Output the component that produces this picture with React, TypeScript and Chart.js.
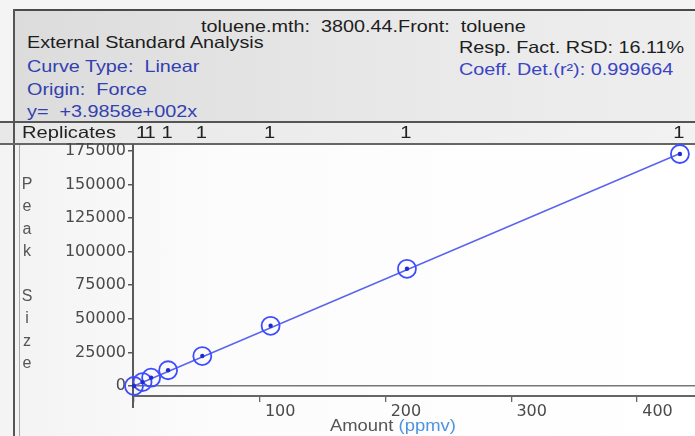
import React, { useEffect, useRef } from 'react';
import { Chart, registerables } from 'chart.js';

Chart.register(...registerables);

// ---- data ----
const amounts = [6.8, 13.6, 27.1, 54.3, 108.6, 217.0, 434.0];
const peakSizes = [2900, 6200, 11700, 22300, 44800, 87200, 172600];
const replicates = [1, 1, 1, 1, 1, 1, 1];
const originAmount = 0;
const originPeak = 0;
const slope = 398.58;
const yTicks = [0, 25000, 50000, 75000, 100000, 125000, 150000, 175000];
const xTicks = [0, 100, 200, 300, 400];
const yRange = [-7440, 179300];
const xRange = [-0.8, 446];

const headerTitle = 'toluene.mth:  3800.44.Front:  toluene';
const leftLines = [
  { text: 'External Standard Analysis', color: '#1d1d1d' },
  { text: 'Curve Type:  Linear', color: '#3340b0' },
  { text: 'Origin:  Force', color: '#3340b0' },
  { text: 'y=  +3.9858e+002x', color: '#3340b0' },
];
const rightLines = [
  { text: 'Resp. Fact. RSD: 16.11%', color: '#1d1d1d' },
  { text: 'Coeff. Det.(r\u00b2): 0.999664', color: '#3a45c4' },
];
const yTitle = 'Peak Size';
const xTitle = 'Amount';
const xUnit = '(ppmv)';

const FONT = '"Liberation Sans", Arial, sans-serif';
const TICK_FONT = '"DejaVu Sans", sans-serif';

const overlayPlugin = {
  id: 'overlay',
  afterDraw(chart: any) {
    const { ctx, chartArea, scales } = chart;
    const xs = scales.x;
    ctx.save();
    // y axis extension below x axis
    ctx.strokeStyle = '#5a5a5a';
    ctx.lineWidth = 2;
    ctx.beginPath();
    ctx.moveTo(chartArea.left, chartArea.bottom);
    ctx.lineTo(chartArea.left, chartArea.bottom + 12);
    ctx.stroke();
    // replicates row
    ctx.fillStyle = '#222';
    ctx.font = '16.5px ' + FONT;
    ctx.textBaseline = 'alphabetic';
    const base = 17;
    const stretched = (t: string, px: number, align: CanvasTextAlign) => {
      ctx.save();
      ctx.translate(px, base);
      ctx.scale(1.22, 1);
      ctx.textAlign = align;
      ctx.fillText(t, 0, 0);
      ctx.restore();
    };
    stretched('Replicates', 22, 'left');
    amounts.forEach((a, i) => {
      stretched(String(replicates[i]), xs.getPixelForValue(a) - 1, 'center');
    });
    ctx.restore();
  },
};

export default function App() {
  const ref = useRef<HTMLCanvasElement | null>(null);

  useEffect(() => {
    document.body.style.margin = '0';
    if (!ref.current) return;
    const pts = [{ x: originAmount, y: originPeak }].concat(
      amounts.map((a, i) => ({ x: a, y: peakSizes[i] }))
    );
    const maxA = Math.max(...amounts);
    const fit = [
      { x: originAmount, y: originPeak },
      { x: maxA, y: slope * maxA },
    ];
    const chart = new Chart(ref.current, {
      type: 'scatter',
      data: {
        datasets: [
          {
            data: pts,
            pointRadius: 2.2,
            pointBackgroundColor: '#1f2bd0',
            pointBorderWidth: 0,
            showLine: false,
            clip: false as any,
          },
          {
            data: pts,
            pointRadius: 9,
            pointBorderColor: '#3d4cff',
            pointBorderWidth: 1.8,
            pointBackgroundColor: 'rgba(0,0,0,0)',
            showLine: false,
            clip: false as any,
          },
          {
            data: fit,
            showLine: true,
            borderColor: '#5a63ee',
            borderWidth: 1.4,
            pointRadius: 0,
            clip: false as any,
          },
        ],
      },
      options: {
        animation: false,
        responsive: false,
        events: [],
        layout: { autoPadding: false, padding: { top: 24, left: 0, right: 0, bottom: 0 } },
        plugins: { legend: { display: false }, tooltip: { enabled: false } },
        scales: {
          x: {
            type: 'linear',
            min: xRange[0],
            max: xRange[1],
            afterBuildTicks: (s: any) => {
              s.ticks = xTicks.map((v) => ({ value: v }));
            },
            afterFit: (s: any) => {
              s.height = 40;
              s.paddingLeft = 0;
              s.paddingRight = 0;
            },
            border: { display: true, color: '#666', width: 2 },
            grid: {
              drawOnChartArea: false,
              tickLength: 6,
              color: '#666',
              lineWidth: 1.3,
            },
            ticks: {
              align: 'start',
              padding: 0,
              color: '#4a4a4a',
              font: { family: TICK_FONT, size: 16 },
              callback: (v: any) => (Number(v) === 0 ? '' : ' ' + v),
            },
          },
          y: {
            type: 'linear',
            min: yRange[0],
            max: yRange[1],
            afterBuildTicks: (s: any) => {
              s.ticks = yTicks.map((v) => ({ value: v }));
            },
            afterFit: (s: any) => {
              s.width = 133;
              s.paddingTop = 0;
              s.paddingBottom = 0;
            },
            border: { display: true, color: '#5a5a5a', width: 2 },
            grid: {
              drawOnChartArea: true,
              tickLength: 5,
              color: (c: any) => (c.tick && c.tick.value === 0 ? '#777' : 'rgba(0,0,0,0)'),
              tickColor: '#5a5a5a',
              lineWidth: 1.5,
            },
            ticks: {
              padding: 2,
              color: '#4a4a4a',
              font: { family: TICK_FONT, size: 16 },
              callback: (v: any) => String(v),
            },
          },
        },
      },
      plugins: [overlayPlugin],
    } as any);
    return () => chart.destroy();
  }, []);

  const textStyle = (left: number, top: number, color: string): React.CSSProperties => ({
    position: 'absolute',
    left,
    top,
    color,
    fontFamily: FONT,
    fontSize: 16.5,
    lineHeight: '20px',
    whiteSpace: 'pre',
    transform: 'scaleX(1.2)',
    transformOrigin: 'left center',
  });

  const leftTops = [31.5, 56, 78.5, 101];
  const rightTops = [36.5, 59];

  return (
    <div
      style={{
        position: 'relative',
        width: 695,
        height: 436,
        overflow: 'hidden',
        background: '#f4f4f4',
      }}
    >
      {/* header background */}
      <div
        style={{
          position: 'absolute',
          left: 15,
          top: 11,
          width: 680,
          height: 110,
          background: 'linear-gradient(to right, #dcdcdc, #e9e9e9 60%, #eeeeee)',
        }}
      />
      {/* replicates row */}
      <div
        style={{
          position: 'absolute',
          left: 0,
          top: 123,
          width: 695,
          height: 20,
          background: 'linear-gradient(to right, #e8e8e8, #f2f2f2)',
        }}
      />
      {/* plot background */}
      <div
        style={{
          position: 'absolute',
          left: 15,
          top: 145,
          width: 680,
          height: 291,
          background: 'linear-gradient(to right, #f3f3f3, #fcfcfc 30%, #ffffff)',
        }}
      />
      {/* frame lines */}
      <div style={{ position: 'absolute', left: 13, top: 9, width: 682, height: 2, background: '#4a4a4a' }} />
      <div style={{ position: 'absolute', left: 13, top: 9, width: 2, height: 427, background: '#555' }} />
      <div style={{ position: 'absolute', left: 19, top: 145, width: 1, height: 291, background: '#aaa' }} />
      <div style={{ position: 'absolute', left: 0, top: 121, width: 695, height: 2, background: '#555' }} />
      <div style={{ position: 'absolute', left: 0, top: 143, width: 695, height: 2, background: '#666' }} />

      {/* header texts */}
      <div style={textStyle(201, 16, '#1d1d1d')}>{headerTitle}</div>
      {leftLines.map((l, i) => (
        <div key={'l' + i} style={textStyle(27, leftTops[i], l.color)}>
          {l.text}
        </div>
      ))}
      {rightLines.map((l, i) => (
        <div key={'r' + i} style={textStyle(459, rightTops[i], l.color)}>
          {l.text}
        </div>
      ))}

      <canvas
        ref={ref}
        width={695}
        height={315}
        style={{ position: 'absolute', left: 0, top: 121, width: 695, height: 315 }}
      />

      {/* y title */}
      <div
        style={{
          position: 'absolute',
          left: 19,
          top: 173,
          width: 16,
          textAlign: 'center',
          fontFamily: FONT,
          fontSize: 16,
          lineHeight: '22.4px',
          color: '#555',
        }}
      >
        {yTitle.split('').map((ch, i) => (
          <div key={i}>{ch === ' ' ? '\u00a0' : ch}</div>
        ))}
      </div>

      {/* x title */}
      <div
        style={{
          position: 'absolute',
          left: 330,
          top: 416,
          fontFamily: FONT,
          fontSize: 16,
          lineHeight: '20px',
          whiteSpace: 'pre',
          color: '#555',
          transform: 'scaleX(1.15)',
          transformOrigin: 'left center',
        }}
      >
        {xTitle + ' '}
        <span style={{ color: '#4d94e0' }}>{xUnit}</span>
      </div>
    </div>
  );
}
